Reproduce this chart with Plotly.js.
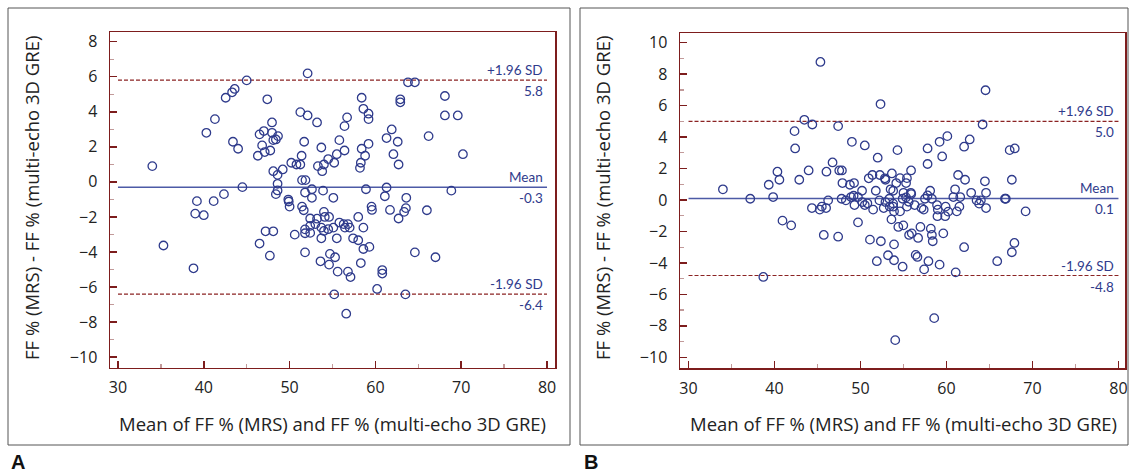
<!DOCTYPE html>
<html><head><meta charset="utf-8">
<script src="https://cdn.plot.ly/plotly-3.0.1.min.js"></script>
<style>body{margin:0;background:#fff}</style></head>
<body><div id="chart" style="width:1130px;height:473px"></div>
<script>
// Panel A: mean of FF% vs difference (MRS - multi-echo 3D GRE)
const aX = [52.1,45.0,63.8,64.6,43.6,43.3,42.55,47.4,58.4,68.1,62.9,62.9,58.6,59.2,59.2,51.25,52.1,53.2,56.7,56.4,68.1,69.6,41.3,40.3,47.95,47.0,46.5,47.95,48.65,48.1,48.4,43.4,44.0,46.8,47.1,47.75,46.3,61.9,61.3,62.6,66.2,70.2,51.7,55.8,53.7,56.4,58.4,59.2,55.5,58.8,62.1,62.7,51.4,54.5,55.2,54.0,53.3,53.8,50.2,50.8,51.25,58.3,58.2,49.2,48.1,48.6,51.45,51.85,48.6,44.5,42.35,41.15,39.2,39.0,40.0,48.6,48.4,51.8,52.6,52.6,53.9,55.1,58.9,61.3,61.1,63.6,68.85,49.85,49.9,50.0,51.45,51.65,59.55,59.6,61.7,63.55,63.35,66.0,62.7,54.0,54.1,54.6,53.2,52.4,58.0,52.4,53.0,53.7,54.0,54.5,55.1,55.8,56.3,56.8,56.45,57.0,58.6,51.8,51.8,52.4,50.6,47.2,48.1,46.5,47.7,53.7,55.5,57.4,58.0,59.3,58.6,51.8,54.7,55.3,53.6,54.6,58.3,55.6,56.8,57.1,60.8,60.8,64.6,67.0,38.8,60.2,55.2,63.5,56.6,34.0,35.3];
const aY = [6.19,5.79,5.68,5.68,5.30,5.11,4.80,4.71,4.80,4.90,4.71,4.54,4.17,3.89,3.58,3.98,3.79,3.39,3.68,3.18,3.79,3.79,3.58,2.80,3.39,2.90,2.71,2.80,2.61,2.38,2.42,2.29,1.89,2.08,1.70,1.79,1.49,2.99,2.50,2.29,2.61,1.58,2.29,2.38,1.96,1.79,1.89,2.17,1.58,1.49,1.58,0.99,1.49,1.30,1.09,0.99,0.90,0.61,1.09,0.99,0.99,1.09,0.80,0.71,0.61,0.40,0.10,0.10,-0.11,-0.30,-0.70,-1.10,-1.10,-1.81,-1.90,-0.49,-0.70,-0.61,-0.42,-0.91,-0.50,-0.91,-0.42,-0.32,-0.82,-0.91,-0.50,-1.01,-1.12,-1.41,-1.41,-1.62,-1.41,-1.60,-1.60,-1.50,-1.71,-1.62,-2.09,-1.71,-2.00,-2.00,-2.10,-2.09,-2.00,-2.51,-2.41,-2.61,-2.80,-2.70,-2.61,-2.32,-2.41,-2.41,-2.61,-2.61,-2.61,-2.71,-2.93,-2.91,-3.01,-2.82,-2.82,-3.52,-4.21,-3.22,-3.22,-3.22,-3.33,-3.71,-3.83,-4.02,-4.11,-4.30,-4.53,-4.72,-4.63,-5.12,-5.12,-5.43,-5.03,-5.23,-4.02,-4.30,-4.93,-6.11,-6.42,-6.42,-7.52,0.90,-3.63];

// Panel B
const bX = [45.34,64.54,52.33,43.47,44.4,47.4,64.2,42.33,42.4,49.0,50.5,54.3,52.0,57.8,59.2,60.1,62.7,62.05,59.5,57.8,67.35,67.94,46.75,40.34,40.57,39.33,42.88,43.97,46.04,47.53,47.84,47.9,48.77,49.25,50.18,50.96,51.39,52.25,52.84,52.9,53.65,51.78,53.5,53.8,54.16,54.6,55.4,55.3,55.88,55.0,55.85,55.9,58.1,61.35,62.16,61.0,62.87,64.47,64.6,67.6,37.18,39.84,46.24,44.35,45.26,45.5,46.0,47.8,48.3,48.9,49.2,49.7,50.2,50.5,50.8,49.3,52.2,52.9,52.7,53.35,53.8,53.4,53.8,53.9,54.6,54.9,55.3,55.6,55.4,56.3,57.1,57.35,57.5,57.8,58.3,58.9,58.99,59.9,58.95,59.85,60.2,60.8,61.6,61.5,61.2,63.5,63.8,64.0,64.6,66.8,66.9,69.2,51.47,40.93,41.94,49.71,53.6,54.4,54.98,56.97,58.18,45.73,47.4,51.1,52.37,53.9,55.65,55.96,56.7,58.3,58.4,59.63,62.05,67.9,67.6,51.9,53.2,53.9,54.9,56.42,56.62,57.4,57.9,59.2,61.07,65.9,38.7,58.57,54.04,34.0];
const bY = [8.78,6.98,6.10,5.10,4.80,4.70,4.80,4.38,3.28,3.70,3.47,3.17,2.69,3.28,3.70,4.06,3.85,3.39,2.77,2.29,3.17,3.28,2.39,1.80,1.29,0.97,1.29,1.88,1.80,1.88,1.88,1.08,0.97,1.08,0.59,1.38,1.59,1.59,1.38,1.29,1.69,0.59,0.68,0.59,1.08,1.39,1.39,1.08,1.88,0.46,0.46,0.38,0.59,1.59,1.29,0.68,0.46,1.19,0.46,1.29,0.08,0.19,-0.02,-0.51,-0.61,-0.42,-0.51,0.08,-0.02,0.19,0.27,0.19,-0.13,-0.32,-0.21,-0.32,-0.02,-0.13,-0.51,0.08,-0.23,-0.42,-0.42,-0.72,-0.72,0.08,0.17,-0.11,-0.42,-0.32,-0.51,-0.61,0.08,0.29,0.08,-0.32,-0.61,-0.42,-1.03,-1.03,-0.74,0.19,0.19,-0.42,-0.72,-0.02,-0.23,-0.02,-0.51,0.08,0.08,-0.72,-0.61,-1.31,-1.61,-1.42,-1.23,-1.71,-1.61,-1.71,-1.82,-2.22,-2.33,-2.52,-2.62,-2.82,-2.22,-2.12,-2.41,-2.22,-2.62,-2.12,-3.00,-2.73,-3.32,-3.89,-3.51,-3.83,-4.24,-3.49,-3.62,-4.41,-3.89,-4.11,-4.60,-3.89,-4.89,-7.51,-8.91,0.68];

// Bland-Altman reference lines
const statLabels = ['+1.96 SD', 'Mean', '-1.96 SD'];
const aStatVals = [5.8, -0.3, -6.4];
const bStatVals = [5.0, 0.1, -4.8];
const lineSpan = [30, 80];
const xTitleText = 'Mean of FF % (MRS) and FF % (multi-echo 3D GRE)';
const yTitleText = 'FF % (MRS) - FF % (multi-echo 3D GRE)';
const panelLetters = ['A', 'B'];

const W = 1130, H = 473;
const FONT = '"Open Sans", Lato, sans-serif';
const AFONT = 'Lato, "Open Sans", sans-serif';
const MAROON = '#7d1d1d';
const NAVY = '#2f3b8c';
const MEANC = '#4d5aa6';

function px(x){return x/W;}
function py(y){return 1 - y/H;}

const traces = [];
function addPanel(xs, ys, stats, xa, ya){
  stats.forEach((v,i)=>{
    traces.push({x: lineSpan, y:[v,v], xaxis:xa, yaxis:ya, mode:'lines', hoverinfo:'skip',
      line: i===1 ? {color:MEANC, width:1.5} : {color:'#8b2323', width:1.2, dash:'4px,2px'}});
  });
  traces.push({x: xs, y: ys, xaxis:xa, yaxis:ya, mode:'markers', type:'scatter',
    marker:{symbol:'circle-open', size:8.5, color:NAVY, line:{width:1.3, color:NAVY}}});
}
addPanel(aX, aY, aStatVals, 'x', 'y');
addPanel(bX, bY, bStatVals, 'x2', 'y2');

function xAxis(domain, anchor, range){
  return {domain, anchor, range, tickmode:'linear', tick0:30, dtick:10,
    ticks:'inside', ticklen:7, tickwidth:1.5, tickcolor:MAROON,
    minor:{ticks:'inside', dtick:5, tick0:0, ticklen:4, tickwidth:1.3, tickcolor:'#c29a9a'},
    showline:true, mirror:true, linecolor:MAROON, linewidth:1.5,
    showgrid:false, zeroline:false, ticklabelstandoff:5,
    tickfont:{family:FONT, size:16, color:'#222'}};
}
function yAxis(domain, anchor, range){
  return {domain, anchor, range, tickmode:'linear', tick0:0, dtick:2,
    ticks:'inside', ticklen:7, tickwidth:1.5, tickcolor:MAROON,
    minor:{ticks:'inside', dtick:1, tick0:0, ticklen:4, tickwidth:1.3, tickcolor:'#c29a9a'},
    showline:true, mirror:true, linecolor:MAROON, linewidth:1.5,
    showgrid:false, zeroline:false, ticklabelstandoff:8,
    tickfont:{family:FONT, size:16, color:'#222'}};
}

const annotations = [];
function statAnn(xref, yref, vals){
  vals.forEach((v,i)=>{
    annotations.push({xref, yref, x:80, y:v, xanchor:'right', yanchor:'bottom', showarrow:false,
      text:statLabels[i], xshift:-2, yshift:0, font:{family:AFONT, size:13.5, color:NAVY}});
    annotations.push({xref, yref, x:80, y:v, xanchor:'right', yanchor:'top', showarrow:false,
      text:v.toFixed(1), xshift:-2, yshift:-1, font:{family:AFONT, size:13.5, color:NAVY}});
  });
}
statAnn('x','y',aStatVals);
statAnn('x2','y2',bStatVals);

[[332,31],[903,602]].forEach(([cx,cy],i)=>{
  annotations.push({xref:'paper', yref:'paper', x:px(cx), y:py(423), xanchor:'center', yanchor:'middle',
    showarrow:false, text:xTitleText, font:{family:FONT, size:18.5, color:'#222'}});
  annotations.push({xref:'paper', yref:'paper', x:px(cy), y:py(198), xanchor:'center', yanchor:'middle',
    showarrow:false, textangle:-90, text:yTitleText, font:{family:FONT, size:18.5, color:'#222'}});
});
[[15,'A'],[588,'B']].forEach(([lx,t])=>{
  annotations.push({xref:'paper', yref:'paper', x:px(lx-6), y:py(462), xanchor:'left', yanchor:'middle',
    showarrow:false, text:'<b>'+t+'</b>', font:{family:'"Liberation Sans", Arial, sans-serif', size:20, color:'#111'}});
});

const shapes = [
  {type:'rect', xref:'paper', yref:'paper', x0:px(8), x1:px(570), y0:py(445), y1:py(8), line:{color:'#555', width:1}},
  {type:'rect', xref:'paper', yref:'paper', x0:px(580), x1:px(1128), y0:py(445), y1:py(8), line:{color:'#555', width:1}}
];

const layout = {
  width:W, height:H, margin:{l:0,r:0,t:0,b:0}, paper_bgcolor:'#fff', plot_bgcolor:'#fff',
  showlegend:false, hovermode:false,
  xaxis: xAxis([px(110), px(555)], 'y', [29.07, 80.93]),
  yaxis: yAxis([py(367.5), py(32)], 'x', [-10.59, 8.55]),
  xaxis2: xAxis([px(680), px(1125)], 'y2', [29.01, 80.76]),
  yaxis2: yAxis([py(368), py(33.3)], 'x2', [-10.68, 10.6]),
  annotations, shapes
};
Plotly.newPlot('chart', traces, layout, {staticPlot:true, displayModeBar:false});
</script></body></html>
